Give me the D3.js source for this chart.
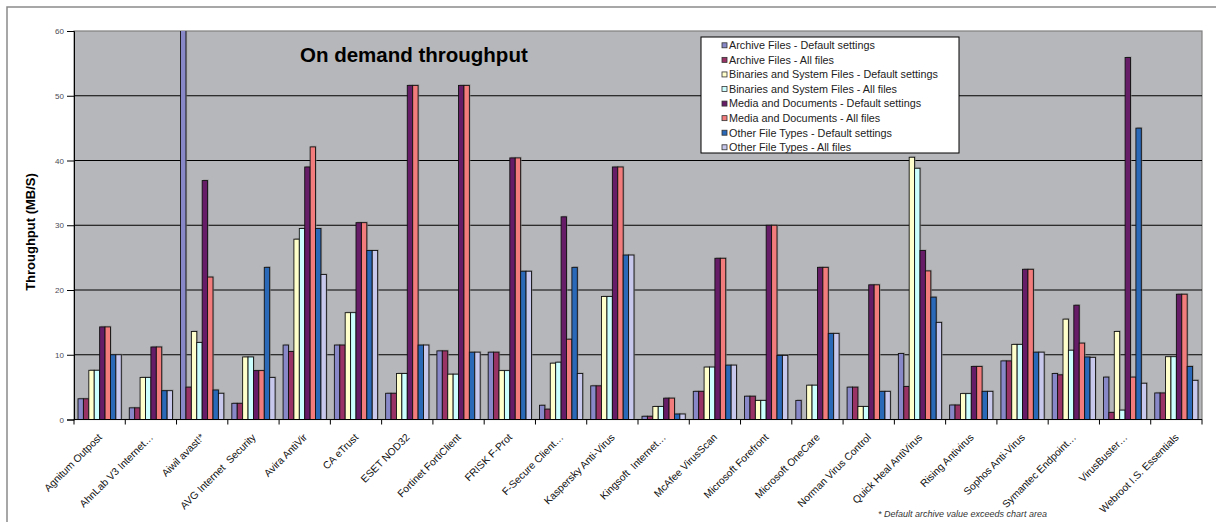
<!DOCTYPE html>
<html>
<head>
<meta charset="utf-8">
<script src="https://cdn.jsdelivr.net/npm/d3@7"></script>
<style>
  body { margin: 0; background: #fff; }
  text { font-family: Arial, "Liberation Sans", sans-serif; }
</style>
</head>
<body>
<svg id="chart" width="1216" height="522"></svg>
<script>
var categories = ["Agnitum Outpost", "AhnLab V3 Internet…", "Aiwil avast!*", "AVG Internet  Security",
  "Avira AntiVir", "CA eTrust", "ESET NOD32", "Fortinet FortiClient", "FRISK F-Prot",
  "F-Secure Client…", "Kaspersky Anti-Virus", "Kingsoft  Internet…", "McAfee VirusScan",
  "Microsoft Forefront", "Microsoft OneCare", "Norman Virus Control", "Quick Heal AntiVirus",
  "Rising Antivirus", "Sophos Anti-Virus", "Symantec Endpoint…", "VirusBuster…", "Webroot I.S. Essentials"];

var seriesNames = ["Archive Files - Default settings", "Archive Files - All files",
  "Binaries and System Files - Default settings", "Binaries and System Files - All files",
  "Media and Documents - Default settings", "Media and Documents - All files",
  "Other File Types - Default settings", "Other File Types - All files"];

// throughput in MB/S (avast! archive default runs off the chart)
var archiveDefault = [3.2, 1.8, 75, 2.5, 11.5, 11.5, 4.05, 10.6, 10.4, 2.2, 5.2, 0.5, 4.35, 3.6, 2.95, 5.0, 10.2, 2.24, 9.05, 7.1, 6.55, 4.1];
var archiveAll = [3.2, 1.8, 5.0, 2.5, 10.5, 11.5, 4.05, 10.6, 10.4, 1.6, 5.2, 0.5, 4.35, 3.6, 0, 5.0, 5.1, 2.24, 9.05, 6.9, 1.1, 4.1];
var binariesDefault = [7.6, 6.5, 13.6, 9.66, 27.85, 16.5, 7.1, 7.0, 7.55, 8.7, 19.0, 2.0, 8.1, 2.95, 5.3, 2.0, 40.5, 4.0, 11.6, 15.5, 13.6, 9.7];
var binariesAll = [7.6, 6.5, 11.9, 9.66, 29.5, 16.5, 7.1, 7.0, 7.55, 8.85, 19.0, 2.0, 8.1, 2.95, 5.3, 2.0, 38.8, 4.0, 11.6, 10.7, 1.45, 9.7];
var mediaDefault = [14.3, 11.2, 36.9, 7.55, 39.0, 30.4, 51.6, 51.6, 40.4, 31.3, 39.0, 3.3, 24.9, 30.0, 23.5, 20.8, 26.1, 8.2, 23.2, 17.65, 55.9, 19.35];
var mediaAll = [14.3, 11.2, 22.0, 7.55, 42.1, 30.4, 51.6, 51.6, 40.4, 12.4, 39.0, 3.3, 24.9, 30.0, 23.5, 20.8, 22.95, 8.2, 23.2, 11.8, 6.55, 19.35];
var otherDefault = [10.0, 4.45, 4.56, 23.5, 29.5, 26.1, 11.5, 10.4, 22.9, 23.5, 25.4, 0.85, 8.4, 9.9, 13.3, 4.35, 18.9, 4.35, 10.4, 9.66, 45.0, 8.2];
var otherAll = [10.0, 4.45, 4.05, 6.5, 22.4, 26.1, 11.5, 10.4, 22.9, 7.1, 25.4, 0.85, 8.4, 9.9, 13.3, 4.35, 15.0, 4.35, 10.4, 9.6, 5.6, 6.05];

var yTicks = [0, 10, 20, 30, 40, 50, 60];

var allSeries = [archiveDefault, archiveAll, binariesDefault, binariesAll, mediaDefault, mediaAll, otherDefault, otherAll];
var colors = ["#8888c8", "#993366", "#ffffcc", "#ccffff", "#661c66", "#f27c7c", "#2a68b8", "#c8c8ec"];

var svg = d3.select("#chart");
var plotLeft = 74, plotRight = 1202, plotTop = 31, plotBottom = 419.5;

// outer frame
svg.append("path").attr("d", "M7,522 V7 H1216")
  .attr("fill", "none").attr("stroke", "#8a8a8a").attr("stroke-width", 1.5);

var x0 = d3.scaleBand().domain(categories).range([plotLeft, plotRight]);
var x1 = d3.scaleBand().domain(d3.range(8)).range([4, x0.bandwidth() - 4]);
var y = d3.scaleLinear().domain([0, 60]).range([plotBottom, plotTop]);

// plot area
svg.append("rect").attr("x", plotLeft).attr("y", plotTop)
  .attr("width", plotRight - plotLeft).attr("height", plotBottom - plotTop)
  .attr("fill", "#b6b7ba").attr("stroke", "#808080").attr("stroke-width", 1.2);

svg.append("clipPath").attr("id", "clip").append("rect")
  .attr("x", plotLeft).attr("y", plotTop).attr("width", plotRight - plotLeft).attr("height", plotBottom - plotTop);

svg.append("g").selectAll("line").data(yTicks.slice(1, -1)).enter()
  .append("line")
  .attr("x1", plotLeft).attr("x2", plotRight)
  .attr("y1", function (d) { return y(d); }).attr("y2", function (d) { return y(d); })
  .attr("stroke", "#000").attr("stroke-width", 1);

var rows = [];
categories.forEach(function (c, i) {
  allSeries.forEach(function (s, k) {
    if (s[i] > 0) rows.push({ cat: c, k: k, v: s[i] });
  });
});

var bars = svg.append("g").attr("clip-path", "url(#clip)");

bars.selectAll("rect.shadow").data(rows).enter()
  .append("rect").attr("class", "shadow")
  .attr("x", function (d) { return x0(d.cat) + x1(d.k) + 1.2; })
  .attr("y", function (d) { return y(d.v) - 1.2; })
  .attr("width", x1.bandwidth())
  .attr("height", function (d) { return plotBottom - y(d.v); })
  .attr("fill", "#8c8c8c").attr("opacity", 0.6);

bars.selectAll("rect.bar").data(rows).enter()
  .append("rect").attr("class", "bar")
  .attr("x", function (d) { return x0(d.cat) + x1(d.k); })
  .attr("y", function (d) { return y(d.v); })
  .attr("width", x1.bandwidth())
  .attr("height", function (d) { return plotBottom - y(d.v); })
  .attr("fill", function (d) { return colors[d.k]; })
  .attr("stroke", "#111").attr("stroke-width", 0.9);

// axes
var yAxis = d3.axisLeft(y).tickValues(yTicks).tickSize(7).tickPadding(3);
var gy = svg.append("g").attr("transform", "translate(" + plotLeft + ",0)").call(yAxis);
gy.select(".domain").attr("stroke", "#000");
gy.selectAll("text").attr("font-size", "8px").attr("fill", "#4a4a55").style("font-family", "Arial, 'Liberation Sans', sans-serif");

var boundaries = d3.range(categories.length + 1).map(function (i) { return plotLeft + i * x0.bandwidth(); });
svg.append("line").attr("x1", plotLeft).attr("x2", plotRight).attr("y1", plotBottom).attr("y2", plotBottom)
  .attr("stroke", "#000");
svg.append("g").selectAll("line").data(boundaries).enter()
  .append("line")
  .attr("x1", function (d) { return d; }).attr("x2", function (d) { return d; })
  .attr("y1", plotBottom).attr("y2", plotBottom + 5)
  .attr("stroke", "#000");

svg.append("g").selectAll("text").data(categories).enter()
  .append("text")
  .attr("transform", function (d) {
    return "translate(" + (x0(d) + x0.bandwidth() / 2 + 3) + "," + 438 + ") rotate(-45)";
  })
  .attr("text-anchor", "end")
  .attr("font-size", "10.3px")
  .attr("fill", "#111")
  .style("white-space", "pre")
  .text(function (d) { return d; });

// titles
svg.append("text").attr("x", 300).attr("y", 61.5)
  .attr("font-size", "20.5px").attr("font-weight", "bold").attr("fill", "#000")
  .text("On demand throughput");

svg.append("text")
  .attr("transform", "translate(35,232) rotate(-90)")
  .attr("text-anchor", "middle")
  .attr("font-size", "13px").attr("font-weight", "bold").attr("fill", "#000")
  .text("Throughput (MB/S)");

svg.append("text").attr("x", 878).attr("y", 517)
  .attr("font-size", "9px").attr("font-style", "italic").attr("fill", "#333")
  .text("* Default archive value exceeds chart area");

// legend
var legend = svg.append("g");
legend.append("rect").attr("x", 701).attr("y", 37).attr("width", 258).attr("height", 116)
  .attr("fill", "#fff").attr("stroke", "#000").attr("stroke-width", 1);

var items = legend.selectAll("g").data(seriesNames).enter()
  .append("g")
  .attr("transform", function (d, i) { return "translate(722," + (45.3 + i * 14.57) + ")"; });
items.append("rect").attr("x", 0).attr("y", -2.5).attr("width", 5).attr("height", 5)
  .attr("fill", function (d, i) { return colors[i]; })
  .attr("stroke", "#333").attr("stroke-width", 0.8);
items.append("text").attr("x", 7).attr("y", 0).attr("dy", "0.35em")
  .attr("font-size", "10.8px").attr("fill", "#222")
  .text(function (d) { return d; });
</script>
</body>
</html>
